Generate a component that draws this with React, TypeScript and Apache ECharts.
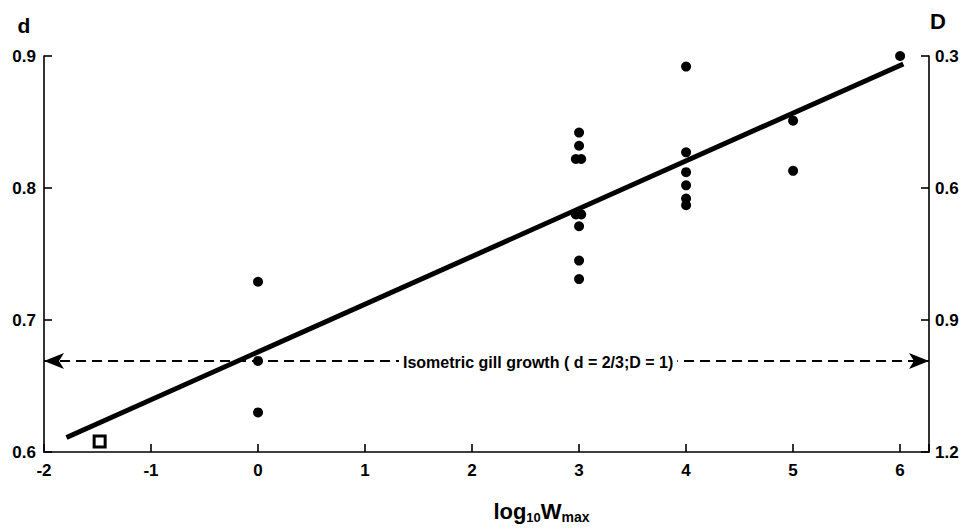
import React, { useEffect, useRef } from "react";
import * as echarts from "echarts";

// Data
const xTicks = [-2, -1, 0, 1, 2, 3, 4, 5, 6];
const dTickLabels = ["0.6", "0.7", "0.8", "0.9"];
const DTickLabels = ["0.3", "0.6", "0.9", "1.2"];

// filled circles: [log10 Wmax, d]
const pointsX0: [number, number][] = [
  [0, 0.729],
  [0, 0.669],
  [0, 0.63],
];
const pointsX3: [number, number][] = [
  [3, 0.842],
  [3, 0.832],
  [2.97, 0.822],
  [3.02, 0.822],
  [2.97, 0.78],
  [3.02, 0.78],
  [3, 0.771],
  [3, 0.745],
  [3, 0.731],
];
const pointsX4: [number, number][] = [
  [4, 0.892],
  [4, 0.827],
  [4, 0.812],
  [4, 0.802],
  [4, 0.792],
  [4, 0.787],
];
const pointsX5: [number, number][] = [
  [5, 0.901],
  [5, 0.851],
  [5, 0.813],
];
const pointsX6: [number, number][] = [[6, 0.9]];

// open square
const squarePoint: [number, number][] = [[-1.48, 0.608]];

// fitted regression line end points
const fitLine: [number, number][] = [
  [-1.79, 0.611],
  [6.03, 0.894],
];

// isometric growth reference level (d = 2/3)
const isoLevel = 0.669;
const isoLabel = "Isometric gill growth ( d = 2/3;D = 1)";

const X_MIN = -2;
const X_MAX = 6.27;

const FONT = "'Liberation Sans', Arial, sans-serif";

export default function App() {
  const ref = useRef<HTMLDivElement>(null);

  useEffect(() => {
    if (!ref.current) return;
    const chart = echarts.init(ref.current, null, { renderer: "svg" });

    const filled = [
      ...pointsX0,
      ...pointsX3,
      ...pointsX4,
      ...pointsX5,
      ...pointsX6,
    ];

    const axisCommon = {
      axisLine: { show: true, onZero: false, lineStyle: { color: "#000", width: 1.6 } },
      axisTick: { show: true, inside: true, length: 8, lineStyle: { color: "#000", width: 1.6 } },
      splitLine: { show: false },
    };

    const tickLabel = {
      color: "#000",
      fontSize: 17,
      fontWeight: "bold",
      fontFamily: FONT,
    };

    chart.setOption({
      animation: false,
      backgroundColor: "#fff",
      grid: { left: 44, right: 35, top: 56, bottom: 76, containLabel: false },
      xAxis: {
        type: "value",
        min: X_MIN,
        max: X_MAX,
        interval: 1,
        ...axisCommon,
        axisLabel: {
          ...tickLabel,
          margin: 10,
          formatter: (v: number) =>
            xTicks.includes(Math.round(v * 1000) / 1000) ? String(Math.round(v)) : "",
        },
        name: "{a|log}{b|10}{a|W}{c|max}",
        nameLocation: "middle",
        nameGap: 46,
        nameTextStyle: {
          padding: [0, 0, 0, 110],
          rich: {
            a: { fontSize: 22, fontWeight: "bold", fontFamily: FONT, color: "#000", lineHeight: 26 },
            b: {
              fontSize: 13,
              fontWeight: "bold",
              fontFamily: FONT,
              color: "#000",
              verticalAlign: "bottom",
              lineHeight: 26,
              padding: [8, 0, 0, 0],
            },
            c: {
              fontSize: 14,
              fontWeight: "bold",
              fontFamily: FONT,
              color: "#000",
              verticalAlign: "bottom",
              lineHeight: 26,
              padding: [8, 0, 0, 0],
            },
          },
        },
      },
      yAxis: [
        {
          type: "value",
          position: "left",
          min: 0.6,
          max: 0.9,
          interval: 0.1,
          ...axisCommon,
          axisLabel: {
            ...tickLabel,
            margin: 8,
            formatter: (v: number) => {
              const s = v.toFixed(1);
              return dTickLabels.includes(s) ? s : "";
            },
          },
          name: "d",
          nameLocation: "end",
          nameGap: 20,
          nameTextStyle: {
            fontSize: 21,
            fontWeight: "bold",
            fontFamily: FONT,
            color: "#000",
            align: "center",
            padding: [0, 40, 0, 0],
          },
        },
        {
          type: "value",
          position: "right",
          min: 0.3,
          max: 1.2,
          interval: 0.3,
          inverse: true,
          ...axisCommon,
          axisLabel: {
            ...tickLabel,
            margin: 6,
            formatter: (v: number) => {
              const s = v.toFixed(1);
              return DTickLabels.includes(s) ? s : "";
            },
          },
          name: "D",
          nameLocation: "start",
          nameGap: 24,
          nameTextStyle: {
            fontSize: 22,
            fontWeight: "bold",
            fontFamily: FONT,
            color: "#000",
            align: "center",
            padding: [0, 0, 0, 18],
          },
        },
      ],
      series: [
        {
          name: "isometric",
          type: "line",
          data: [],
          markLine: {
            silent: true,
            symbol: ["arrow", "arrow"],
            symbolSize: [12, 20],
            lineStyle: { color: "#000", type: [10, 6], width: 2 },
            itemStyle: { color: "#000" },
            label: { show: false },
            data: [
              [
                { coord: [X_MIN, isoLevel] },
                { coord: [X_MAX, isoLevel] },
              ],
            ],
          },
        },
        {
          name: "fit",
          type: "line",
          data: fitLine,
          showSymbol: false,
          symbol: "none",
          lineStyle: { color: "#000", width: 5 },
          z: 3,
        },
        {
          name: "gill",
          type: "scatter",
          data: filled,
          symbol: "circle",
          symbolSize: 10,
          itemStyle: { color: "#000", opacity: 1 },
          z: 4,
        },
        {
          name: "square",
          type: "scatter",
          data: squarePoint,
          symbol: "rect",
          symbolSize: 11,
          itemStyle: { color: "#fff", borderColor: "#000", borderWidth: 3, opacity: 1 },
          z: 4,
        },
      ],
      graphic: [
        {
          type: "text",
          left: 399,
          top: 353,
          z: 100,
          style: {
            text: isoLabel,
            fontSize: 16,
            fontWeight: "bold",
            fontFamily: FONT,
            fill: "#000",
            backgroundColor: "#fff",
            padding: [1, 4],
          },
        },
      ],
    });

    return () => chart.dispose();
  }, []);

  return (
    <div
      ref={ref}
      style={{ position: "absolute", left: 0, top: 0, width: 964, height: 529, background: "#fff" }}
    />
  );
}
